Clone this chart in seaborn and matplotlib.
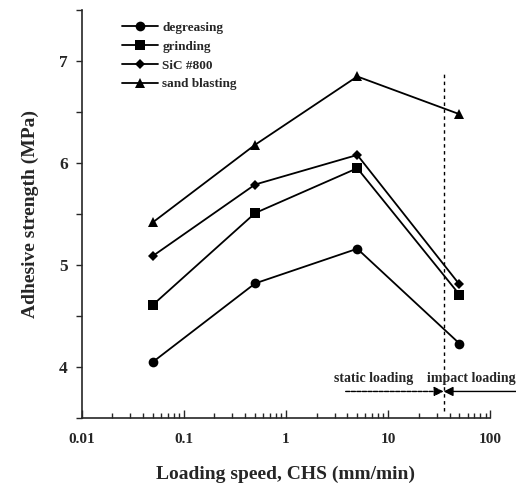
import numpy as np
import pandas as pd
import matplotlib
matplotlib.use("Agg")
import matplotlib.pyplot as plt
import seaborn as sns

# ---- data ----
speeds = [0.05, 0.5, 5, 50]
degreasing = [4.05, 4.82, 5.16, 4.23]
grinding = [4.61, 5.51, 5.95, 4.71]
sic800 = [5.09, 5.79, 6.08, 4.81]
sand_blasting = [5.42, 6.18, 6.85, 6.48]
series_names = ["degreasing", "grinding", "SiC #800", "sand blasting"]
x_ticks = [0.01, 0.1, 1, 10, 100]
x_tick_labels = ["0.01", "0.1", "1", "10", "100"]
y_ticks = [4, 5, 6, 7]
boundary_speed = 35

sns.set_style("ticks")
plt.rcParams["font.family"] = ["Liberation Serif", "DejaVu Serif"]
plt.rcParams["font.weight"] = "bold"

rows = []
for name, vals in zip(series_names, [degreasing, grinding, sic800, sand_blasting]):
    for s, v in zip(speeds, vals):
        rows.append({"speed": s, "strength": v, "surface": name})
df = pd.DataFrame(rows)

fig = plt.figure(figsize=(5.16, 4.86), dpi=100)
ax = fig.add_axes([0.158, 0.140, 0.792, 0.839])

markers = {"degreasing": "o", "grinding": "s", "SiC #800": "D", "sand blasting": "^"}
sizes_map = {"degreasing": 7, "grinding": 7, "SiC #800": 5.5, "sand blasting": 6.5}
sns.lineplot(data=df, x="speed", y="strength", hue="surface", style="surface",
             markers=markers, dashes=False, palette=["black"] * 4,
             linewidth=1.3, markersize=7, markeredgewidth=0, ax=ax, legend=True)
ax.set_xscale("log")
ax.set_xlim(0.01, 100)
ax.set_ylim(3.5, 7.5)

# per-series marker sizes
for line, name in zip(ax.lines[:4], series_names):
    line.set_markersize(sizes_map[name])

ax.set_xticks(x_ticks)
ax.set_xticklabels(x_tick_labels)
ax.set_yticks(y_ticks)
ax.set_yticks([3.5, 4.5, 5.5, 6.5, 7.5], minor=True)
ax.tick_params(axis="x", which="major", direction="in", length=6, width=1, labelsize=11, pad=11)
ax.tick_params(axis="x", which="minor", direction="in", length=3.5, width=1)
ax.tick_params(axis="y", which="both", direction="out", length=4, width=1, labelsize=12.5, pad=6)
for sp in ["top", "right"]:
    ax.spines[sp].set_visible(False)
for sp in ["left", "bottom"]:
    ax.spines[sp].set_linewidth(1.2)

ax.set_xlabel("Loading speed, CHS (mm/min)", fontsize=14, fontweight="bold", labelpad=14)
ax.set_ylabel("Adhesive strength (MPa)", fontsize=14, fontweight="bold", labelpad=14)

# legend
handles, labels = ax.get_legend_handles_labels()
for h, name in zip(handles, labels):
    h.set_markersize(sizes_map.get(name, 7))
ax.legend(handles, labels, loc="upper left", bbox_to_anchor=(0.085, 0.985),
          frameon=False, fontsize=9.5, handlelength=2.8, handletextpad=0.3,
          labelspacing=0.5, borderaxespad=0)

# boundary line and loading annotations
ax.plot([boundary_speed, boundary_speed], [3.57, 6.9], color="black", lw=1,
        ls=(0, (2.5, 2.5)))
ax.text(7.2, 3.89, "static loading", ha="center", va="center", fontsize=10)
ax.text(66, 3.89, "impact loading", ha="center", va="center", fontsize=10)
ax.annotate("", xy=(boundary_speed, 3.76), xytext=(3.85, 3.76),
            arrowprops=dict(arrowstyle="-|>", color="black", lw=1, ls=(0, (3, 1)),
                            mutation_scale=14, shrinkA=0, shrinkB=0),
            annotation_clip=False)
ax.annotate("", xy=(boundary_speed, 3.76), xytext=(180, 3.76),
            arrowprops=dict(arrowstyle="-|>", color="black", lw=1,
                            mutation_scale=14, shrinkA=0, shrinkB=0),
            annotation_clip=False)

fig.savefig("out.png", dpi=100)
